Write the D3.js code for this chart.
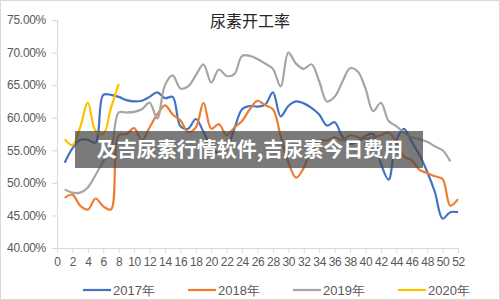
<!DOCTYPE html>
<html>
<head>
<meta charset="utf-8">
<script src="https://cdn.jsdelivr.net/npm/d3@7"></script>
<style>
  body { margin: 0; background: #fff; }
  svg { display: block; }
</style>
</head>
<body>
<div id="chart"></div>
<script>
// week numbers on the category axis (%)
var xTicks = [0,2,4,6,8,10,12,14,16,18,20,22,24,26,28,30,32,34,36,38,40,42,44,46,48,50,52];
var yTicks = [40,45,50,55,60,65,70,75];

var y2017 = [53.1,55.3,56.6,56.6,56.2,63.5,63.5,63.2,62.7,62.5,62.6,63.2,63.9,63.0,63.2,58.7,58.3,59.8,57.8,55.5,
             54.5,55.3,58.3,61.3,61.8,61.7,62.0,63.9,60.2,61.8,62.5,62.2,61.5,60.5,58.8,59.3,57.1,56.0,56.3,57.2,
             57.5,53.0,50.5,56.5,58.3,56.3,54.3,51.7,48.6,44.5,45.5,45.5];
var y2018 = [47.7,48.2,46.5,45.9,47.6,46.4,45.9,57.3,57.5,58.4,56.5,58.5,60.5,61.9,60.5,59.6,57.8,58.5,62.3,58.3,
             59.0,57.3,58.5,59.5,61.3,62.6,61.9,61.3,57.2,53.2,50.8,52.3,55.3,56.5,56.5,57.0,56.5,57.3,57.0,56.8,
             57.0,57.3,57.7,56.3,54.0,53.5,52.0,51.5,51.0,50.6,46.5,47.5];
var y2019 = [49.0,48.5,48.5,49.3,51.2,53.3,55.0,60.8,60.8,60.9,61.3,62.3,59.9,65.0,66.5,64.5,64.8,66.5,68.2,65.4,
             67.4,66.4,66.7,69.5,69.5,69.0,68.3,67.5,64.8,70.0,68.3,67.5,68.2,65.6,62.5,63.2,65.5,67.6,67.1,64.5,
             61.0,62.3,59.5,58.7,57.7,57.0,56.7,56.3,55.6,55.0,53.3];
var y2020 = [56.7,55.8,58.5,62.3,58.0,57.5,61.5,65.2];

var seriesNames = ["2017年","2018年","2019年","2020年"];
var colors = ["#4472C4","#ED7D31","#A5A5A5","#FFC000"];
var seriesData = [y2017, y2018, y2019, y2020];

var width = 500, height = 300;

var svg = d3.select("#chart").append("svg")
    .attr("width", width)
    .attr("height", height);

// outer frame
svg.append("rect")
    .attr("x", 0.5).attr("y", 0.5)
    .attr("width", width - 1).attr("height", height - 1)
    .style("fill", "#fff").style("stroke", "#d9d9d9");

var x = d3.scaleLinear().domain([0, 52]).range([57, 458]);
var y = d3.scaleLinear().domain([40, 75]).range([248, 20]);

svg.append("text")
    .attr("x", 250).attr("y", 27)
    .attr("text-anchor", "middle")
    .style("font-family", "'Noto Sans CJK SC', sans-serif")
    .style("font-size", "16px")
    .style("fill", "#262626")
    .text("尿素开工率");

var yAxis = svg.append("g")
    .attr("transform", "translate(" + x(0) + ",0)")
    .call(d3.axisLeft(y).tickValues(yTicks).tickSize(5).tickPadding(6)
        .tickFormat(function(d) { return d.toFixed(2) + "%"; }));

var xAxis = svg.append("g")
    .attr("transform", "translate(0," + y(40) + ")")
    .call(d3.axisBottom(x).tickValues(xTicks).tickSize(5).tickPadding(4)
        .tickFormat(function(d) { return d; }));

[yAxis, xAxis].forEach(function(a) {
    a.select(".domain").style("stroke", "#d9d9d9");
    a.selectAll(".tick line").style("stroke", "#d9d9d9");
    a.selectAll(".tick text")
        .style("font-family", "'Liberation Sans', Arial, sans-serif")
        .style("font-size", "12px")
        .style("letter-spacing", "-0.3px")
        .style("fill", "#595959");
});

var line = d3.line()
    .x(function(d, i) { return x(i + 1); })
    .y(function(d) { return y(d); })
    .curve(d3.curveCatmullRom.alpha(0.5));

svg.selectAll(".series")
    .data(seriesData)
    .enter().append("path")
    .attr("class", "series")
    .attr("d", line)
    .style("fill", "none")
    .style("stroke", function(d, i) { return colors[i]; })
    .style("stroke-width", 2.2)
    .style("stroke-linejoin", "round");

// legend
var legend = svg.selectAll(".legend")
    .data(seriesNames)
    .enter().append("g")
    .attr("class", "legend")
    .attr("transform", function(d, i) { return "translate(" + (83 + i * 105) + ",290)"; });

legend.append("line")
    .attr("x1", 0).attr("x2", 28)
    .style("stroke", function(d, i) { return colors[i]; })
    .style("stroke-width", 2.2);

legend.append("text")
    .attr("x", 30).attr("y", 0).attr("dy", "0.35em")
    .style("font-family", "'Liberation Sans', Arial, sans-serif")
    .style("font-size", "13px")
    .style("fill", "#595959")
    .text(function(d) { return d; });

// watermark banner over the plot
svg.append("rect")
    .attr("x", 75).attr("y", 131)
    .attr("width", 348).attr("height", 37)
    .style("fill", "rgba(70,70,70,0.72)");

svg.append("text")
    .attr("x", 250).attr("y", 157)
    .attr("text-anchor", "middle")
    .style("font-family", "'Noto Sans CJK SC', sans-serif")
    .style("font-weight", "bold")
    .style("font-size", "20px")
    .style("fill", "#fff")
    .text("及吉尿素行情软件,吉尿素今日费用");
</script>
</body>
</html>
